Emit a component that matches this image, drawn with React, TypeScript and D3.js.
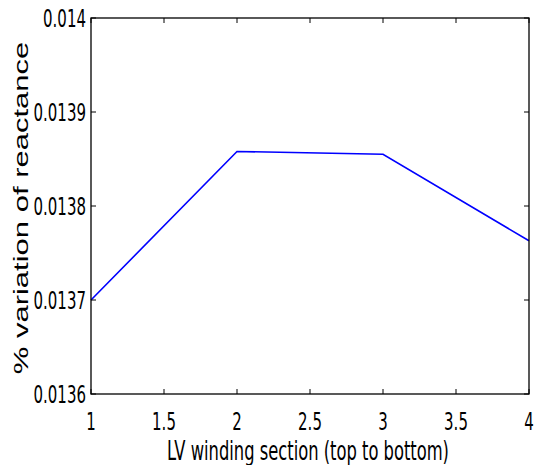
import React from "react";
import * as d3 from "d3";

const sections = [1, 2, 3, 4];
const reactanceVariation = [0.0137, 0.013858, 0.013855, 0.013763];
const xTicks = [1, 1.5, 2, 2.5, 3, 3.5, 4];
const yTicks = [0.0136, 0.0137, 0.0138, 0.0139, 0.014];
const yTickLabels = ["0.0136", "0.0137", "0.0138", "0.0139", "0.014"];
const xTickLabels = ["1", "1.5", "2", "2.5", "3", "3.5", "4"];
const xLabel = "LV winding section (top to bottom)";
const yLabel = "% variation of reactance";

const W = 537;
const H = 465;
const left = 91;
const right = 529;
const top = 18;
const bottom = 394;

export default function App() {
  const x = d3.scaleLinear().domain([1, 4]).range([left, right]);
  const y = d3.scaleLinear().domain([0.0136, 0.014]).range([bottom, top]);
  const line = d3
    .line<number>()
    .x((_, i) => x(sections[i]))
    .y((d) => y(d));
  const tickFont = "DejaVu Sans, Verdana, sans-serif";
  const sx = 0.6;
  return (
    <svg
      width={W}
      height={H}
      style={{ position: "absolute", left: 0, top: 0, background: "#fff" }}
    >
      <rect x={0} y={0} width={W} height={H} fill="#fff" />
      <path
        d={line(reactanceVariation) || ""}
        fill="none"
        stroke="#0000ff"
        strokeWidth={1.6}
      />
      {xTicks.map((t) => (
        <g key={"xt" + t}>
          <line x1={x(t)} x2={x(t)} y1={bottom} y2={bottom - 5} stroke="#000" />
          <line x1={x(t)} x2={x(t)} y1={top} y2={top + 5} stroke="#000" />
        </g>
      ))}
      {yTicks.map((t) => (
        <g key={"yt" + t}>
          <line x1={left} x2={left + 5} y1={y(t)} y2={y(t)} stroke="#000" />
          <line x1={right} x2={right - 5} y1={y(t)} y2={y(t)} stroke="#000" />
        </g>
      ))}
      <rect
        x={left}
        y={top}
        width={right - left}
        height={bottom - top}
        fill="none"
        stroke="#000"
        strokeWidth={1.3}
      />
      {xTicks.map((t, i) => (
        <text
          key={"xl" + t}
          transform={`translate(${x(t)},${bottom + 36}) scale(${sx},1)`}
          textAnchor="middle"
          fontFamily={tickFont}
          fontSize={25}
          fill="#000"
        >
          {xTickLabels[i]}
        </text>
      ))}
      {yTicks.map((t, i) => (
        <text
          key={"yl" + t}
          transform={`translate(${left - 5},${y(t) + 9}) scale(${sx},1)`}
          textAnchor="end"
          fontFamily={tickFont}
          fontSize={25}
          fill="#000"
        >
          {yTickLabels[i]}
        </text>
      ))}
      <text
        transform={`translate(${(left + right) / 2 - 2},${bottom + 66}) scale(0.605,1)`}
        textAnchor="middle"
        fontFamily={tickFont}
        fontSize={27}
        fill="#000"
      >
        {xLabel}
      </text>
      <text
        transform={`translate(28,${(top + bottom) / 2 + 2}) rotate(-90) scale(1.55,1)`}
        textAnchor="middle"
        fontFamily="Liberation Sans, Arial, sans-serif"
        fontSize={20}
        fill="#000"
      >
        {yLabel}
      </text>
    </svg>
  );
}
